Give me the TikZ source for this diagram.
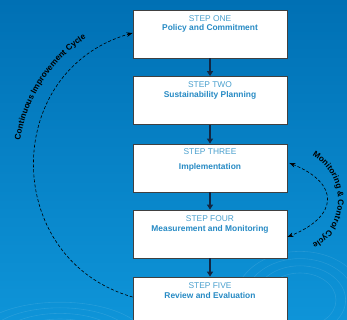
\documentclass[tikz,border=0pt]{standalone}
\usepackage{fontspec}
\setmainfont{Liberation Sans}
\usetikzlibrary{arrows.meta,decorations.text}
\definecolor{bgtop}{RGB}{0,112,180}
\definecolor{bgbot}{RGB}{14,148,216}
\definecolor{steplight}{RGB}{74,160,206}
\definecolor{stepdark}{RGB}{38,138,196}
\definecolor{navy}{RGB}{18,38,66}
\tikzset{
  stepbox/.style={draw=black!75, line width=0.8pt, fill=white, minimum width=154pt, minimum height=48pt, inner sep=0pt},
  steptitle/.style={text=steplight, font=\fontsize{8.4}{10}\selectfont, inner sep=0pt},
  stepname/.style={text=stepdark, font=\bfseries\fontsize{8.4}{10}\selectfont, inner sep=0pt},
  flow/.style={draw=navy, line width=1.5pt, -{Triangle[length=5pt,width=6pt]}},
  cyc/.style={draw=black, line width=0.6pt, dash pattern=on 3pt off 2pt},
  swirl/.style={draw=white, opacity=0.1, line width=0.6pt}
}
\begin{document}
\begin{tikzpicture}[x=1pt,y=1pt]
\useasboundingbox (0,0) rectangle (347,320);
\clip (0,0) rectangle (347,320);
\shade[top color=bgtop, bottom color=bgbot] (0,0) rectangle (347,320);
% faint swirls
\foreach \r in {30,38,46,54}{
  \draw[swirl] (60,-20) ellipse[x radius=\r*1.6, y radius=\r*0.7];
  \draw[swirl] (300,20) ellipse[x radius=\r*1.2, y radius=\r*0.9];
}
% boxes
\node[stepbox] (b1) at (210,286) {};
\node[stepbox] (b2) at (210,219.5) {};
\node[stepbox] (b3) at (210,152) {};
\node[stepbox] (b4) at (210,86) {};
\node[stepbox] (b5) at (210,19) {};
% texts
\node[steptitle] (t1) at ([yshift=-8.7pt]b1.north) {STEP ONE};
\node[stepname]  (n1) at ([yshift=-19pt]b1.north) {Policy and Commitment};
\node[steptitle] (t2) at ([yshift=-8.5pt]b2.north) {STEP TWO};
\node[stepname]  (n2) at ([yshift=-19.5pt]b2.north) {Sustainability Planning};
\node[steptitle] (t3) at ([yshift=-8.2pt]b3.north) {STEP THREE};
\node[stepname]  (n3) at ([yshift=-24pt]b3.north) {Implementation};
\node[steptitle] (t4) at ([yshift=-9pt]b4.north) {STEP FOUR};
\node[stepname]  (n4) at ([yshift=-20pt]b4.north) {Measurement and Monitoring};
\node[steptitle] (t5) at ([yshift=-9pt]b5.north) {STEP FIVE};
\node[stepname]  (n5) at ([yshift=-18.7pt]b5.north) {Review and Evaluation};
% flow arrows
\draw[flow] (b1.south) -- (b2.north);
\draw[flow] (b2.south) -- (b3.north);
\draw[flow] (b3.south) -- (b4.north);
\draw[flow] (b4.south) -- (b5.north);
% continuous improvement cycle
\draw[cyc, -{Stealth[length=6pt,width=4.5pt]}] ([yshift=4pt]b5.west) to[out=164, in=196, looseness=1.33] ([yshift=1pt]b1.west);
\coordinate (cl) at (170,155);
\path[decorate, decoration={text along path, text align=center,
  text={|\bfseries\fontsize{8.3}{9}\selectfont|Continuous Improvement Cycle}}]
  ([shift={(172:152)}]cl) arc[start angle=172, end angle=122, radius=152];
% monitoring & control cycle
\draw[cyc, {Stealth[length=6pt,width=4.5pt]}-{Stealth[length=6pt,width=4.5pt]}] ([xshift=2pt,yshift=5pt]b3.east) to[out=-22, in=22, looseness=1.9] ([yshift=-3pt]b4.east);
\coordinate (cr) at (287,120);
\path[decorate, decoration={text along path, text align=center,
  text={|\bfseries\fontsize{8.3}{9}\selectfont|Monitoring {\&} Control Cycle}}]
  ([shift={(70:51)}]cr) arc[start angle=70, end angle=-70, radius=51];
\end{tikzpicture}
\end{document}
